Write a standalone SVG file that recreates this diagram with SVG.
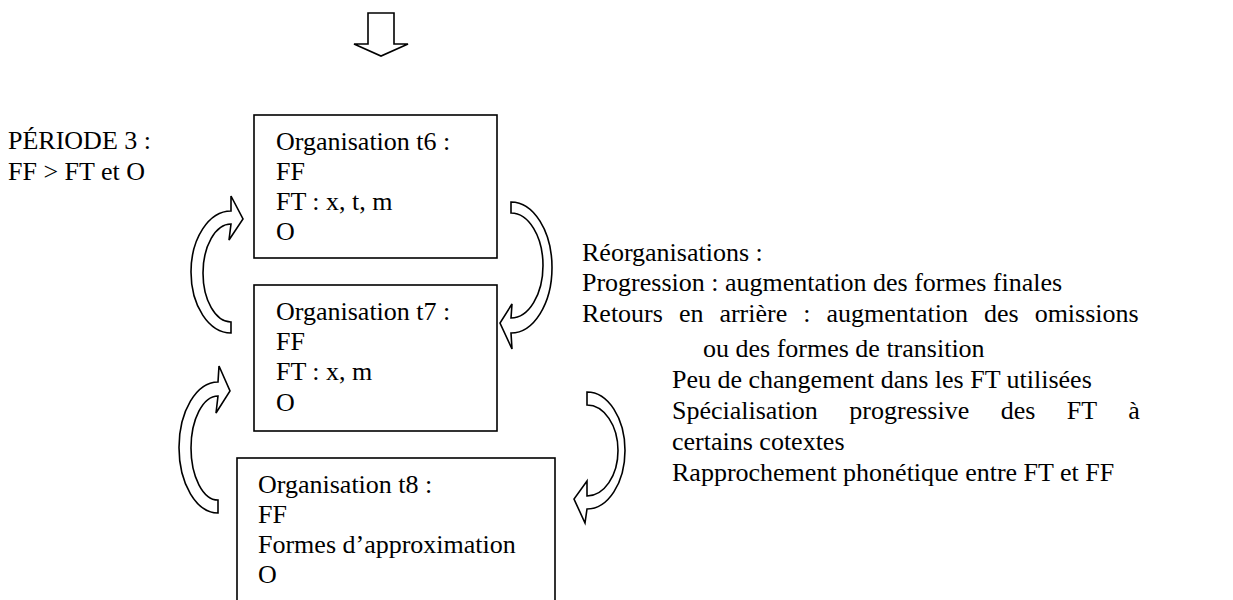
<svg xmlns="http://www.w3.org/2000/svg" width="1233" height="600" viewBox="0 0 1233 600">
<style>
.t{font-family:"Liberation Serif","Times New Roman",serif;font-size:26px;fill:#000}
.box{fill:#fff;stroke:#000;stroke-width:1.6}
.ar{fill:#fff;stroke:#000;stroke-width:1.6;stroke-linejoin:miter}
</style>
<rect width="1233" height="600" fill="#fff"/>
<g id="connectors">
<path id="down-arrow" class="ar" d="M368,13 L394,13 L394,44 L408,44 L381,56 L354,44 L368,44 Z"/>
<path id="arrow-t7-t6" class="ar" d="M231,333 A40 61 0 0 1 231,211 L231,196 L243,219 L229,240 L231,224 A28 49 0 0 0 231,322 Z"/>
<path id="arrow-t8-t7" class="ar" d="M218,513 A39 65.5 0 0 1 218,382 L219,366 L230,391 L216,413 L218,396 A27 52 0 0 0 218,500 Z"/>
<path id="arrow-t6-t7" class="ar" d="M511,202 A41 65.5 0 0 1 511,333 L512,349 L500,323 L512,304 L511,318 A32 52.5 0 0 0 511,213 Z"/>
<path id="arrow-t7-t8" class="ar" d="M587,392 A38 58.5 0 0 1 587,509 L585,523 L574,499 L587,481 L587,496 A31 45.5 0 0 0 587,405 Z"/>
</g>
<g id="periode">
<text class="t" x="8" y="149">PÉRIODE 3 :</text>
<text class="t" x="8" y="180">FF &gt; FT et O</text>
</g>
<g id="box-t6">
<rect class="box" x="254" y="115" width="243" height="143"/>
<text class="t" x="276" y="150">Organisation t6 :</text>
<text class="t" x="276" y="180">FF</text>
<text class="t" x="276" y="210">FT : x, t, m</text>
<text class="t" x="276" y="240">O</text>
</g>
<g id="box-t7">
<rect class="box" x="254" y="285" width="243" height="146"/>
<text class="t" x="276" y="320">Organisation t7 :</text>
<text class="t" x="276" y="350">FF</text>
<text class="t" x="276" y="380">FT : x, m</text>
<text class="t" x="276" y="411">O</text>
</g>
<g id="box-t8">
<rect class="box" x="237" y="458" width="318" height="160"/>
<text class="t" x="258" y="493">Organisation t8 :</text>
<text class="t" x="258" y="523">FF</text>
<text class="t" x="258" y="553">Formes d’approximation</text>
<text class="t" x="258" y="583">O</text>
</g>
<g id="reorganisations">
<text class="t" x="582" y="261">Réorganisations :</text>
<text class="t" x="582" y="291">Progression : augmentation des formes finales</text>
<text class="t" x="582" y="322" word-spacing="9.5">Retours en arrière : augmentation des omissions</text>
<text class="t" x="703" y="357">ou des formes de transition</text>
<text class="t" x="672" y="388">Peu de changement dans les FT utilisées</text>
<text class="t" x="672" y="419" word-spacing="25">Spécialisation progressive des FT à</text>
<text class="t" x="672" y="450">certains cotextes</text>
<text class="t" x="672" y="481">Rapprochement phonétique entre FT et FF</text>
</g>
</svg>
